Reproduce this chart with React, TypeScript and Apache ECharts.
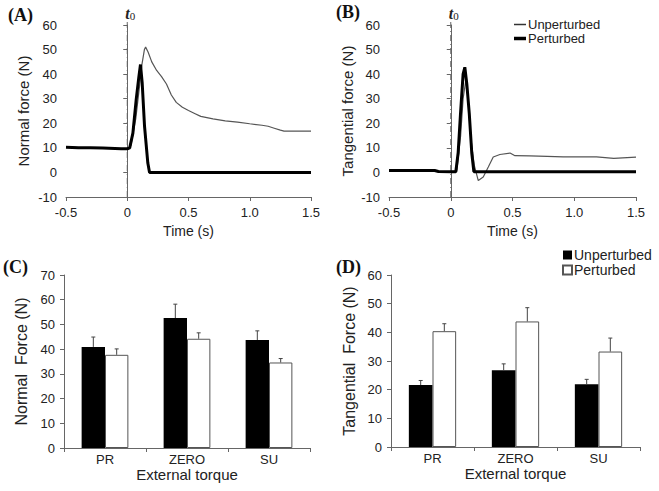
import React, { useEffect, useRef } from "react";
import * as echarts from "echarts";

// Panel A: normal force time courses
const timeA_unpert = [-0.5, -0.4, -0.3, -0.2, -0.1, -0.05, 0, 0.03, 0.07, 0.1, 0.12, 0.14, 0.15, 0.17, 0.2, 0.24, 0.28, 0.32, 0.36, 0.4, 0.45, 0.5, 0.55, 0.6, 0.7, 0.8, 0.9, 1.0, 1.1, 1.15, 1.2, 1.25, 1.28, 1.5];
const forceA_unpert = [10.5, 10.1, 10, 9.9, 9.7, 9.6, 9.6, 11, 22, 35, 44, 50, 51, 49, 45, 41.5, 39, 36, 31.5, 28.5, 26.5, 25.2, 24, 22.8, 21.8, 21, 20.5, 19.8, 19.2, 18.8, 18, 17.2, 16.8, 16.8];
const timeA_pert = [-0.5, -0.4, -0.3, -0.2, -0.1, -0.05, 0, 0.02, 0.046, 0.073, 0.095, 0.108, 0.122, 0.141, 0.168, 0.182, 0.2, 0.3, 1.5];
const forceA_pert = [10.2, 10, 10, 9.9, 9.7, 9.6, 9.6, 10, 16, 29.6, 39, 43.9, 36.4, 18.8, 3.8, 0, 0, 0, 0];

// Panel B: tangential force time courses
const timeB_unpert = [-0.5, -0.3, -0.13, -0.1, 0, 0.04, 0.05, 0.08, 0.1, 0.122, 0.14, 0.16, 0.19, 0.223, 0.263, 0.304, 0.344, 0.398, 0.48, 0.52, 0.64, 0.78, 0.91, 1.18, 1.32, 1.5];
const forceB_unpert = [0.8, 0.8, 0.8, 0.4, 0.3, 0.5, 1, 15, 30, 37.5, 30, 15, 3, -3.3, -1.9, 2.2, 6.3, 7.3, 7.9, 6.8, 6.7, 6.5, 6.3, 6.3, 5.7, 6.2];
const timeB_pert = [-0.5, -0.3, -0.13, -0.1, 0, 0.041, 0.06, 0.079, 0.1, 0.114, 0.13, 0.15, 0.17, 0.187, 0.2, 1.5];
const forceB_pert = [0.8, 0.8, 0.8, 0.4, 0.3, 0.3, 8, 23.9, 40, 42.8, 36, 23.9, 8, 0.3, 0.3, 0.3];

// perturbation onset marker t0 (time, from bottom to top of the force range)
const onsetTime = 0;
const onsetRange = [-10, 62];

// Panels C & D: bar means and error-bar tops
const torqueCategories = ["PR", "ZERO", "SU"];
const normalUnpert = [40.9, 52.6, 43.7];
const normalUnpertTop = [44.9, 58.2, 47.4];
const normalPert = [37.7, 44.2, 34.6];
const normalPertTop = [40.1, 46.6, 36.2];
const tangUnpert = [21.6, 26.8, 21.9];
const tangUnpertTop = [23.2, 29.0, 23.6];
const tangPert = [40.4, 43.8, 33.3];
const tangPertTop = [43.0, 48.6, 38.0];

const timeTicks = [-0.5, 1.5, 0.5];

const FONT = "'Liberation Sans', Arial, sans-serif";
const SERIF = "'Liberation Serif', 'Times New Roman', serif";
const AX = "#666";
const TXT = "#222";

const pair = (xs: number[], ys: number[]) => xs.map((x, i) => [x, ys[i]]);

function lineXAxis(gridIndex: number) {
  return {
    type: "value",
    gridIndex,
    min: timeTicks[0],
    max: timeTicks[1],
    interval: timeTicks[2],
    name: "Time (s)",
    nameLocation: "middle",
    nameGap: 27,
    nameTextStyle: { fontFamily: FONT, fontSize: 14, color: TXT },
    axisLine: { onZero: false, lineStyle: { color: AX, width: 1 } },
    axisTick: { show: true, length: 4, lineStyle: { color: AX } },
    axisLabel: {
      margin: 9,
      fontFamily: FONT,
      fontSize: 13,
      color: TXT,
      formatter: (v: number) => (v === 0 ? "0" : v.toFixed(1)),
    },
    splitLine: { show: false },
  };
}

function yAxisDef(gridIndex: number, min: number, max: number, name: string, fontSize: number, gap: number) {
  return {
    type: "value",
    gridIndex,
    min,
    max,
    interval: 10,
    name,
    nameLocation: "middle",
    nameGap: gap,
    nameRotate: 90,
    nameTextStyle: { fontFamily: FONT, fontSize, color: TXT },
    axisLine: { show: true, lineStyle: { color: AX, width: 1 } },
    axisTick: { show: true, length: 4, lineStyle: { color: AX } },
    axisLabel: { margin: 9, fontFamily: FONT, fontSize: 13, color: TXT },
    splitLine: { show: false },
  };
}

function barXAxis(gridIndex: number) {
  return {
    type: "category",
    gridIndex,
    data: torqueCategories,
    name: "External torque",
    nameLocation: "middle",
    nameGap: 18,
    nameTextStyle: { fontFamily: FONT, fontSize: 15, color: TXT },
    axisLine: { lineStyle: { color: AX, width: 1 } },
    axisTick: { show: true, length: 4, lineStyle: { color: AX } },
    axisLabel: { margin: 5, fontFamily: FONT, fontSize: 13, color: TXT },
  };
}

const BAR_W = 0.285;

function errorSeries(idx: number, values: number[], tops: number[], side: number) {
  return {
    type: "custom",
    xAxisIndex: idx,
    yAxisIndex: idx,
    z: 5,
    silent: true,
    data: values.map((v, i) => [i, tops[i], v]),
    encode: { x: 0, y: 1 },
    renderItem: (_p: any, api: any) => {
      const cat = api.value(0);
      const base = api.coord([cat, api.value(2)]);
      const top = api.coord([cat, api.value(1)]);
      const w = api.size([1, 0])[0];
      const x = base[0] + side * (BAR_W / 2) * w;
      const st = { stroke: "#444", lineWidth: 1 };
      return {
        type: "group",
        children: [
          { type: "line", shape: { x1: x, y1: base[1], x2: x, y2: top[1] }, style: st },
          { type: "line", shape: { x1: x - 2, y1: top[1], x2: x + 2, y2: top[1] }, style: st },
        ],
      };
    },
  };
}

function barSeries(idx: number, name: string, values: number[], black: boolean) {
  return {
    type: "bar",
    name,
    xAxisIndex: idx,
    yAxisIndex: idx,
    data: values,
    barWidth: BAR_W * 100 + "%",
    barGap: "0%",
    itemStyle: black
      ? { color: "#000", borderColor: "#000", borderWidth: 0 }
      : { color: "#fff", borderColor: "#555", borderWidth: 1 },
  };
}

function onsetSeries(idx: number) {
  return {
    type: "line",
    name: "onset",
    xAxisIndex: idx,
    yAxisIndex: idx,
    silent: true,
    symbol: "none",
    clip: false,
    data: [
      [onsetTime, onsetRange[0]],
      [onsetTime, onsetRange[1]],
    ],
    lineStyle: { color: "#666", width: 1, type: [6, 3, 1, 3] },
    endLabel: {
      show: true,
      formatter: "{t|t}{s|0}",
      offset: [-10, -7],
      rich: {
        t: { fontFamily: SERIF, fontStyle: "italic", fontWeight: "bold", fontSize: 16, color: "#222" },
        s: { fontFamily: SERIF, fontSize: 11, color: "#222", padding: [6, 0, 0, 0] },
      },
    },
    z: 1,
  };
}

export default function App() {
  const ref = useRef<HTMLDivElement>(null);
  useEffect(() => {
    if (!ref.current) return;
    const chart = echarts.init(ref.current, undefined, { renderer: "svg" });
    const thin = "path://M0 0H24V3H0Z";
    const thick = "path://M0 0H24V7H0Z";
    chart.setOption({
      animation: false,
      backgroundColor: "#fff",
      grid: [
        { left: 66, top: 25, width: 245, height: 172 },
        { left: 389, top: 25, width: 247, height: 172 },
        { left: 64, top: 275, width: 246, height: 173 },
        { left: 391, top: 275, width: 249, height: 172 },
      ],
      xAxis: [lineXAxis(0), lineXAxis(1), barXAxis(2), barXAxis(3)],
      yAxis: [
        yAxisDef(0, -10, 60, "Normal force (N)", 15, 35),
        yAxisDef(1, -10, 60, "Tangential force (N)", 15, 34),
        yAxisDef(2, 0, 70, "Normal  Force (N)", 16, 35),
        yAxisDef(3, 0, 60, "Tangential  Force (N)", 16, 34),
      ],
      legend: [
        {
          left: 514,
          top: 18,
          orient: "vertical",
          itemWidth: 12,
          itemHeight: 10,
          itemGap: 1,
          padding: 0,
          data: [
            { name: "Unperturbed", icon: thin },
            { name: "Perturbed", icon: thick },
          ],
          textStyle: { fontFamily: FONT, fontSize: 13, color: TXT, padding: [0, 0, 0, -3], lineHeight: 12 },
        },
        {
          left: 562,
          top: 248,
          orient: "vertical",
          itemWidth: 9,
          itemHeight: 9,
          itemGap: 1,
          padding: 0,
          icon: "rect",
          data: ["Unperturbed bars", "Perturbed bars"],
          formatter: (n: string) => n.replace(" bars", ""),
          textStyle: { fontFamily: FONT, fontSize: 14, color: TXT, padding: [0, 0, 0, -3], lineHeight: 12 },
        },
      ],
      graphic: [
        { type: "text", left: 8, top: 6, style: { text: "(A)", font: `bold 18px ${SERIF}`, fill: "#111" } },
        { type: "text", left: 336, top: 3, style: { text: "(B)", font: `bold 18px ${SERIF}`, fill: "#111" } },
        { type: "text", left: 3, top: 258, style: { text: "(C)", font: `bold 18px ${SERIF}`, fill: "#111" } },
        { type: "text", left: 336, top: 258, style: { text: "(D)", font: `bold 18px ${SERIF}`, fill: "#111" } },
      ],
      series: [
        onsetSeries(0),
        onsetSeries(1),
        {
          type: "line",
          name: "Unperturbed",
          xAxisIndex: 0,
          yAxisIndex: 0,
          data: pair(timeA_unpert, forceA_unpert),
          symbol: "none",
          color: "#333",
          lineStyle: { color: "#555", width: 1.2 },
          z: 2,
        },
        {
          type: "line",
          name: "Perturbed",
          xAxisIndex: 0,
          yAxisIndex: 0,
          data: pair(timeA_pert, forceA_pert),
          symbol: "none",
          color: "#000",
          lineStyle: { color: "#000", width: 3 },
          z: 3,
        },
        {
          type: "line",
          name: "Unperturbed",
          xAxisIndex: 1,
          yAxisIndex: 1,
          data: pair(timeB_unpert, forceB_unpert),
          symbol: "none",
          color: "#333",
          lineStyle: { color: "#555", width: 1.2 },
          z: 2,
        },
        {
          type: "line",
          name: "Perturbed",
          xAxisIndex: 1,
          yAxisIndex: 1,
          data: pair(timeB_pert, forceB_pert),
          symbol: "none",
          color: "#000",
          lineStyle: { color: "#000", width: 3 },
          z: 3,
        },
        barSeries(2, "Unperturbed bars", normalUnpert, true),
        barSeries(2, "Perturbed bars", normalPert, false),
        errorSeries(2, normalUnpert, normalUnpertTop, -1),
        errorSeries(2, normalPert, normalPertTop, 1),
        barSeries(3, "Unperturbed bars", tangUnpert, true),
        barSeries(3, "Perturbed bars", tangPert, false),
        errorSeries(3, tangUnpert, tangUnpertTop, -1),
        errorSeries(3, tangPert, tangPertTop, 1),
      ],
    });
    return () => chart.dispose();
  }, []);
  return (
    <div
      ref={ref}
      style={{ position: "fixed", left: 0, top: 0, width: 659, height: 491, background: "#fff" }}
    />
  );
}
